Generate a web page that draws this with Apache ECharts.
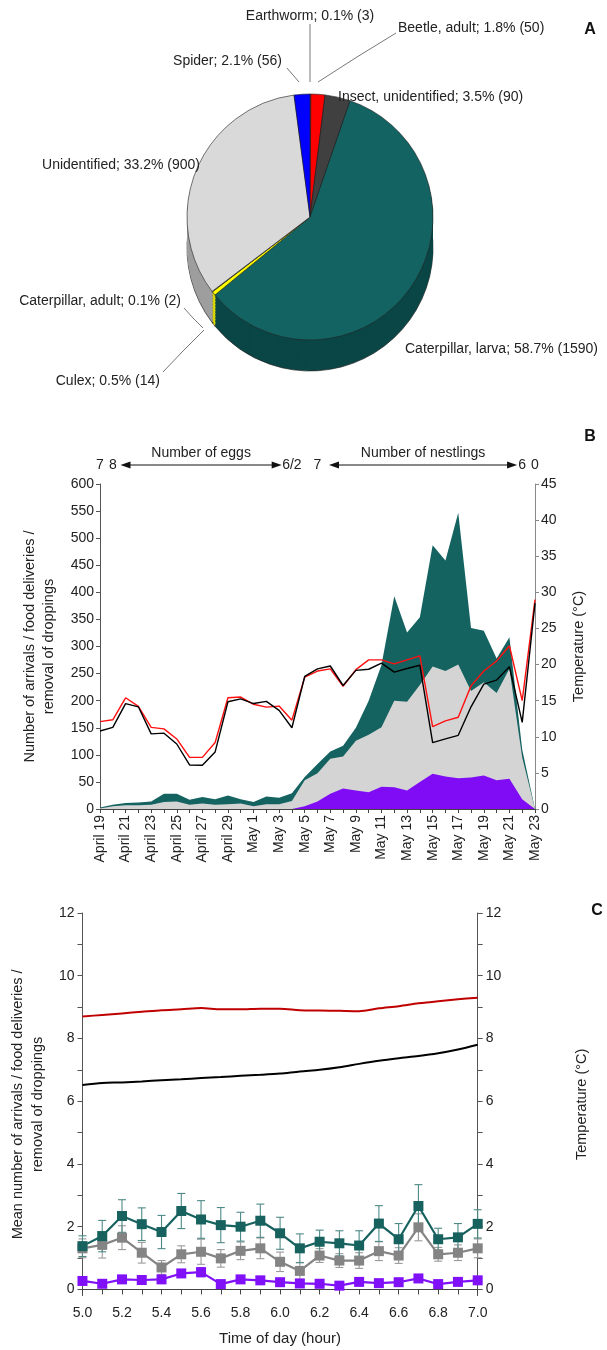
<!DOCTYPE html>
<html>
<head>
<meta charset="utf-8">
<script src="https://cdn.jsdelivr.net/npm/echarts@6/dist/echarts.min.js"></script>
<style>html,body{margin:0;padding:0;background:#fff}#c{width:607px;height:1350px}</style>
</head>
<body>
<div id="c"></div>
<script>
// ---------- Panel A: diet composition ----------
const pieNames = ['Earthworm', 'Beetle, adult', 'Insect, unidentified', 'Caterpillar, larva', 'Culex', 'Caterpillar, adult', 'Unidentified', 'Spider'];
const pieCounts = [3, 50, 90, 1590, 14, 2, 900, 56];
const piePercents = ['0.1', '1.8', '3.5', '58.7', '0.5', '0.1', '33.2', '2.1'];

// ---------- Panel B: daily counts ----------
const days = ['April 19','April 20','April 21','April 22','April 23','April 24','April 25','April 26','April 27','April 28','April 29','April 30',
  'May 1','May 2','May 3','May 4','May 5','May 6','May 7','May 8','May 9','May 10','May 11','May 12','May 13','May 14','May 15','May 16',
  'May 17','May 18','May 19','May 20','May 21','May 22','May 23'];
const dailyArrivals = [3, 8, 11, 12, 14, 28, 28, 17, 22, 18, 25, 18, 13, 23, 21, 29, 59, 83, 106, 117, 150, 200, 266, 393, 326, 354, 487, 459, 547, 334, 329, 278, 317, 110, 0];
const dailyFood = [1, 5, 7, 7, 8, 13, 14, 8, 10, 8, 9, 10, 5, 9, 9, 15, 53, 66, 93, 97, 126, 137, 151, 200, 198, 229, 263, 255, 267, 218, 234, 214, 259, 95, 0];
const dailyDroppings = [0, 0, 0, 0, 0, 0, 0, 0, 0, 0, 0, 0, 0, 0, 0, 0, 5, 14, 28, 38, 34, 31, 41, 40, 34, 50, 65, 60, 57, 58, 62, 53, 56, 18, 0];
const dailyTempRed = [12.1, 12.35, 15.4, 14.2, 11.3, 11.1, 9.7, 7.15, 7.15, 9.2, 15.4, 15.5, 14.5, 14.1, 14.25, 12.3, 18.25, 19.1, 19.4, 17.0, 19.3, 20.65, 20.65, 20.1, 20.65, 21.2, 11.4, 12.2, 12.7, 17.05, 19.1, 20.5, 22.6, 15.0, 29.0];
const dailyTempBlack = [10.8, 11.3, 14.6, 14.15, 10.4, 10.5, 9.0, 6.1, 6.05, 7.9, 14.85, 15.25, 14.6, 14.9, 13.65, 11.25, 18.35, 19.4, 19.8, 17.1, 19.2, 19.35, 20.2, 18.95, 19.45, 19.9, 9.2, 9.7, 10.2, 14.15, 17.3, 17.85, 19.7, 12.0, 28.5];
const broodNumbers = ['7', '8', '6/2', '7', '6', '0'];
const broodTitles = ['Number of eggs', 'Number of nestlings'];

// ---------- Panel C: time of day ----------
const hours = [5.0, 5.1, 5.2, 5.3, 5.4, 5.5, 5.6, 5.7, 5.8, 5.9, 6.0, 6.1, 6.2, 6.3, 6.4, 6.5, 6.6, 6.7, 6.8, 6.9, 7.0];
const hourLabels = [5.0, 5.2, 5.4, 5.6, 5.8, 6.0, 6.2, 6.4, 6.6, 6.8, 7.0];
const countTicks = [0, 1, 2, 3, 4, 5, 6, 7, 8, 9, 10, 11, 12];
const countLabels = [0, 2, 4, 6, 8, 10, 12];
const arrivalsMean = [1.38, 1.70, 2.34, 2.08, 1.83, 2.50, 2.23, 2.05, 2.00, 2.19, 1.79, 1.31, 1.52, 1.47, 1.40, 2.10, 1.60, 2.66, 1.60, 1.66, 2.09];
const arrivalsSE = [0.33, 0.50, 0.52, 0.52, 0.53, 0.56, 0.60, 0.56, 0.46, 0.53, 0.51, 0.46, 0.37, 0.40, 0.47, 0.57, 0.50, 0.68, 0.35, 0.44, 0.45];
const foodMean = [1.31, 1.42, 1.65, 1.17, 0.70, 1.12, 1.20, 0.99, 1.23, 1.31, 0.88, 0.59, 1.08, 0.92, 0.92, 1.22, 1.08, 1.98, 1.12, 1.17, 1.31];
const foodSE = [0.30, 0.42, 0.38, 0.33, 0.22, 0.27, 0.40, 0.28, 0.28, 0.33, 0.31, 0.27, 0.22, 0.22, 0.25, 0.30, 0.25, 0.43, 0.22, 0.25, 0.30];
const droppingsMean = [0.27, 0.18, 0.32, 0.30, 0.32, 0.51, 0.55, 0.17, 0.32, 0.29, 0.23, 0.19, 0.18, 0.12, 0.24, 0.20, 0.23, 0.35, 0.17, 0.24, 0.29];
const droppingsSE = [0.05, 0.05, 0.07, 0.06, 0.06, 0.10, 0.15, 0.05, 0.06, 0.06, 0.05, 0.05, 0.05, 0.04, 0.05, 0.05, 0.05, 0.06, 0.05, 0.05, 0.05];
const hourTempRed = [8.70, 8.75, 8.80, 8.85, 8.90, 8.93, 8.97, 8.93, 8.93, 8.95, 8.95, 8.90, 8.89, 8.88, 8.87, 8.96, 9.03, 9.12, 9.19, 9.25, 9.30];
const hourTempBlack = [6.52, 6.58, 6.60, 6.63, 6.67, 6.70, 6.74, 6.77, 6.81, 6.84, 6.88, 6.95, 7.00, 7.08, 7.19, 7.29, 7.37, 7.44, 7.53, 7.65, 7.80];

// ---------- styles / layout ----------
const FONT = 'Liberation Sans, Arial, sans-serif';
const TEAL = '#156361', GRAY = '#d4d4d4', PURPLE = '#7f0cf5';
const pieColors = ['#8a6d3b', '#ff0000', '#404040', '#146363', '#ffff00', '#c8a000', '#d9d9d9', '#0000ff'];
const pieSideColors = ['#5a4626', '#a00000', '#2a2a2a', '#0a4646', '#d8d800', '#8a6e00', '#9e9e9e', '#0000a0'];
const pieCenter = [310, 217], pieR = 123, pieDepth = 31;
// label anchor [x, y, align, line points]
const pieLabelPos = [
  [310, 16, 'center', [[310, 24], [310, 50], [310, 82]]],
  [398, 28, 'left', [[396, 33], [357, 57], [318, 82]]],
  [338, 97, 'left', null],
  [405, 349, 'left', null],
  [160, 381, 'right', [[163, 372], [183, 351], [204, 330]]],
  [181, 301, 'right', [[184, 308], [193, 318], [203, 328]]],
  [200, 165, 'right', null],
  [282, 61, 'right', [[287, 68], [293, 75], [299, 82]]]
];
const gB = {left: 100, top: 484, width: 435, height: 325};
const gC = {left: 72.7, top: 913, width: 405, height: 382.7};

const chart = echarts.init(document.getElementById('c'), null, {renderer: 'canvas'});

const pieData = (colors, withLabels) => pieNames.map((n, i) => ({
  name: n, value: pieCounts[i],
  itemStyle: {color: colors[i]},
  labelLine: {show: withLabels && !!pieLabelPos[i][3]}
}));

const series = [];
// extruded side of the pie (stacked layers, bottom first)
for (let d = pieDepth; d > 0; d -= 1.5) {
  const bottom = d === pieDepth;
  series.push({
    type: 'pie', silent: true, center: [pieCenter[0], pieCenter[1] + d], radius: pieR,
    startAngle: 90, clockwise: true, minAngle: 0, avoidLabelOverlap: false,
    label: {show: false}, labelLine: {show: false}, emphasis: {disabled: true},
    itemStyle: {borderColor: bottom ? '#222' : 'transparent', borderWidth: bottom ? 0.7 : 0},
    data: pieData(pieSideColors, false)
  });
}
series.push({
  type: 'pie', silent: true, center: pieCenter, radius: pieR,
  startAngle: 90, clockwise: true, minAngle: 0, avoidLabelOverlap: false,
  emphasis: {disabled: true},
  itemStyle: {borderColor: '#222', borderWidth: 0.6},
  label: {show: true, position: 'outside', fontFamily: FONT, fontSize: 14, color: '#222',
    formatter: p => pieNames[p.dataIndex] + '; ' + piePercents[p.dataIndex] + '% (' + pieCounts[p.dataIndex] + ')'},
  labelLine: {show: true, length: 10, length2: 10, lineStyle: {color: '#555', width: 0.8}},
  labelLayout: function (p) {
    const L = pieLabelPos[p.dataIndex];
    const r = {x: L[0], y: L[1], align: L[2], verticalAlign: 'middle'};
    if (L[3]) r.labelLinePoints = L[3];
    return r;
  },
  data: pieData(pieColors, true)
});

// Panel B
const areaSeries = (data, color) => ({
  type: 'line', xAxisIndex: 0, yAxisIndex: 0, data, symbol: 'none', silent: true,
  lineStyle: {width: 0}, areaStyle: {color, opacity: 1}
});
series.push(areaSeries(dailyArrivals, TEAL));
series.push(areaSeries(dailyFood, GRAY));
series.push(areaSeries(dailyDroppings, PURPLE));
series.push({type: 'line', xAxisIndex: 0, yAxisIndex: 1, data: dailyTempRed, symbol: 'none', lineStyle: {color: '#ff1010', width: 1.4}, z: 5});
series.push({type: 'line', xAxisIndex: 0, yAxisIndex: 1, data: dailyTempBlack, symbol: 'none', lineStyle: {color: '#000', width: 1.4}, z: 5});

// Panel C
const errBars = (means, ses, color) => ({
  type: 'custom', xAxisIndex: 2, yAxisIndex: 2, silent: true,
  data: hours.map((h, i) => [h, means[i] - ses[i], means[i] + ses[i]]),
  encode: {x: 0, y: [1, 2]},
  renderItem: (params, api) => {
    const x = api.value(0);
    const lo = api.coord([x, api.value(1)]);
    const hi = api.coord([x, api.value(2)]);
    const w = 4;
    const st = {stroke: color, lineWidth: 1.1};
    return {type: 'group', children: [
      {type: 'line', shape: {x1: lo[0], y1: lo[1], x2: hi[0], y2: hi[1]}, style: st},
      {type: 'line', shape: {x1: lo[0] - w, y1: lo[1], x2: lo[0] + w, y2: lo[1]}, style: st},
      {type: 'line', shape: {x1: hi[0] - w, y1: hi[1], x2: hi[0] + w, y2: hi[1]}, style: st}
    ]};
  }
});
const meanLine = (means, color) => ({
  type: 'line', xAxisIndex: 2, yAxisIndex: 2, data: hours.map((h, i) => [h, means[i]]),
  symbol: 'rect', symbolSize: 10, itemStyle: {color}, lineStyle: {color, width: 2.2}, silent: true
});
series.push(errBars(foodMean, foodSE, '#9a9a9a'));
series.push(meanLine(foodMean, '#848484'));
series.push(errBars(arrivalsMean, arrivalsSE, '#4d8a87'));
series.push(meanLine(arrivalsMean, '#17625f'));
series.push(errBars(droppingsMean, droppingsSE, '#a66cff'));
series.push(meanLine(droppingsMean, '#8010f8'));
series.push({type: 'line', xAxisIndex: 2, yAxisIndex: 3, data: hours.map((h, i) => [h, hourTempRed[i]]), symbol: 'none', smooth: 0.3, lineStyle: {color: '#c00000', width: 2}});
series.push({type: 'line', xAxisIndex: 2, yAxisIndex: 3, data: hours.map((h, i) => [h, hourTempBlack[i]]), symbol: 'none', smooth: 0.3, lineStyle: {color: '#000', width: 2}});

const axisTxt = {fontFamily: FONT, color: '#222'};

// top annotation for panel B (positions by day index)
const dayX = idx => gB.left + idx * gB.width / (days.length - 1);
const numIdx = [0, 1, 15, 17, 33, 34];
const arrowY = 465;
const graphics = [];
broodNumbers.forEach((t, i) => graphics.push({type: 'text', x: dayX(numIdx[i]), y: arrowY, style: {text: t, font: '14px ' + FONT, fill: '#222', textAlign: 'center', textVerticalAlign: 'middle'}}));
const arrows = [[1.6, 14.2], [17.9, 32.6]];
arrows.forEach((a, i) => {
  const x1 = dayX(a[0]), x2 = dayX(a[1]);
  graphics.push({type: 'line', shape: {x1: x1 + 6, y1: arrowY, x2: x2 - 6, y2: arrowY}, style: {stroke: '#111', lineWidth: 1}});
  graphics.push({type: 'polygon', shape: {points: [[x1, arrowY], [x1 + 10, arrowY - 3.5], [x1 + 10, arrowY + 3.5]]}, style: {fill: '#111'}});
  graphics.push({type: 'polygon', shape: {points: [[x2, arrowY], [x2 - 10, arrowY - 3.5], [x2 - 10, arrowY + 3.5]]}, style: {fill: '#111'}});
  graphics.push({type: 'text', x: (x1 + x2) / 2, y: 453, style: {text: broodTitles[i], font: '14px ' + FONT, fill: '#222', textAlign: 'center', textVerticalAlign: 'middle'}});
});
[['A', 590, 30], ['B', 590, 437], ['C', 597, 911]].forEach(p => graphics.push({type: 'text', x: p[1], y: p[2], style: {text: p[0], font: 'bold 16px ' + FONT, fill: '#111', textAlign: 'center', textVerticalAlign: 'middle'}}));

const option = {
  animation: false,
  textStyle: {fontFamily: FONT},
  grid: [
    {left: gB.left, top: gB.top, width: gB.width, height: gB.height},
    {left: gC.left, top: gC.top, width: gC.width, height: gC.height}
  ],
  xAxis: [
    {type: 'category', gridIndex: 0, data: days, boundaryGap: false,
      axisLine: {lineStyle: {color: '#444'}}, axisTick: {interval: 0, length: 4, lineStyle: {color: '#444'}},
      axisLabel: Object.assign({interval: 1, rotate: 90, fontSize: 14, margin: 6}, axisTxt), splitLine: {show: false}},
    {type: 'category', gridIndex: 0, data: days, boundaryGap: false, position: 'top',
      axisLine: {lineStyle: {color: '#444'}}, axisTick: {interval: 0, inside: true, length: 4, lineStyle: {color: '#444'}},
      axisLabel: {show: false}, splitLine: {show: false}},
    {type: 'value', gridIndex: 1, min: 5, max: 7,
      axisLine: {lineStyle: {color: '#444'}},
      axisTick: {customValues: hours, length: 5, lineStyle: {color: '#444'}},
      axisLabel: Object.assign({customValues: hourLabels, fontSize: 14, margin: 10, formatter: v => Number(v).toFixed(1)}, axisTxt),
      splitLine: {show: false},
      name: 'Time of day (hour)', nameLocation: 'middle', nameGap: 36, nameTextStyle: Object.assign({fontSize: 15}, axisTxt)}
  ],
  yAxis: [
    {type: 'value', gridIndex: 0, min: 0, max: 600, interval: 50,
      axisLine: {show: true, lineStyle: {color: '#555'}}, axisTick: {show: true, length: 4, lineStyle: {color: '#555'}},
      axisLabel: Object.assign({fontSize: 14, margin: 6}, axisTxt), splitLine: {show: false},
      name: 'Number of arrivals / food deliveries /\nremoval of droppings', nameLocation: 'middle', nameGap: 42, nameRotate: 90,
      nameTextStyle: Object.assign({fontSize: 14.5, lineHeight: 19}, axisTxt)},
    {type: 'value', gridIndex: 0, min: 0, max: 45, interval: 5, position: 'right',
      axisLine: {show: true, lineStyle: {color: '#888'}}, axisTick: {show: true, length: 4, lineStyle: {color: '#888'}},
      axisLabel: Object.assign({fontSize: 14, margin: 6}, axisTxt), splitLine: {show: false},
      name: 'Temperature (°C)', nameLocation: 'middle', nameGap: 36, nameRotate: 90,
      nameTextStyle: Object.assign({fontSize: 14.5}, axisTxt)},
    {type: 'value', gridIndex: 1, min: -0.2, max: 12,
      axisLine: {show: true, lineStyle: {color: '#555'}},
      axisTick: {show: true, customValues: countTicks, length: 5, lineStyle: {color: '#555'}},
      axisLabel: Object.assign({customValues: countLabels, fontSize: 14, margin: 8}, axisTxt), splitLine: {show: false},
      name: 'Mean number of arrivals / food deliveries /\nremoval of droppings', nameLocation: 'middle', nameGap: 22, nameRotate: 90,
      nameTextStyle: Object.assign({fontSize: 14.5, lineHeight: 20}, axisTxt)},
    {type: 'value', gridIndex: 1, min: -0.2, max: 12, position: 'right',
      axisLine: {show: true, lineStyle: {color: '#555'}},
      axisTick: {show: true, customValues: countTicks, length: 5, lineStyle: {color: '#555'}},
      axisLabel: Object.assign({customValues: countLabels, fontSize: 14, margin: 8}, axisTxt), splitLine: {show: false},
      name: 'Temperature (°C)', nameLocation: 'middle', nameGap: 97, nameRotate: 90,
      nameTextStyle: Object.assign({fontSize: 14.5}, axisTxt)}
  ],
  graphic: graphics,
  series
};
chart.setOption(option);
</script>
</body>
</html>
